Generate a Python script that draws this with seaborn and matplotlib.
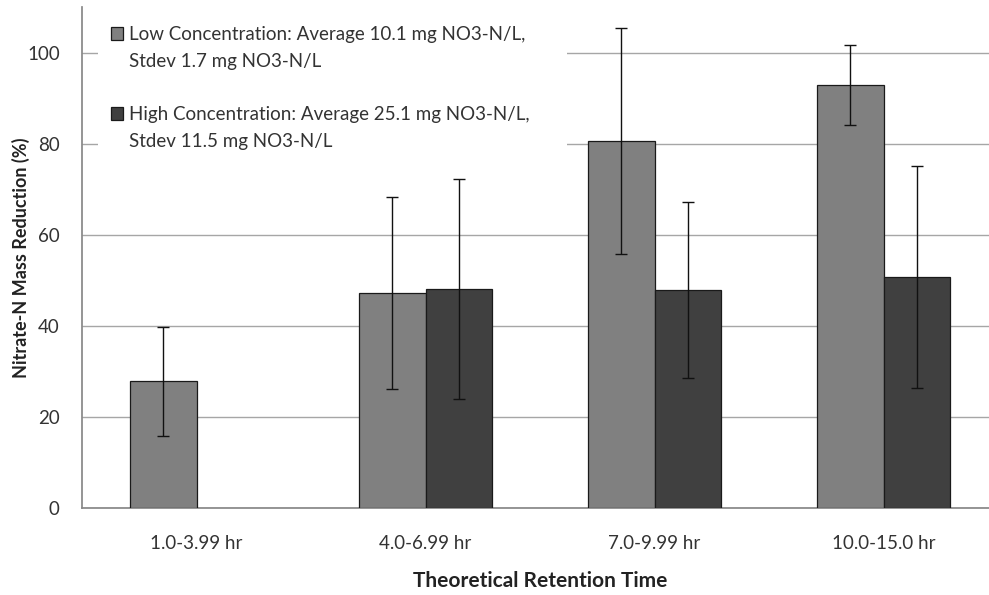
import numpy as np
import pandas as pd
import matplotlib
matplotlib.use("Agg")
import matplotlib.pyplot as plt
from matplotlib.patches import Rectangle
import seaborn as sns

categories = ["1.0-3.99 hr", "4.0-6.99 hr", "7.0-9.99 hr", "10.0-15.0 hr"]
low_mean = [27.8, 47.2, 80.6, 93.0]
low_sd = [12.0, 21.1, 24.8, 8.8]
high_mean = [np.nan, 48.1, 47.9, 50.8]
high_sd = [np.nan, 24.1, 19.3, 24.4]
series = ["Low Concentration: Average 10.1 mg NO3-N/L,\nStdev 1.7 mg NO3-N/L",
          "High Concentration: Average 25.1 mg NO3-N/L,\nStdev 11.5 mg NO3-N/L"]
y_ticks = [0, 20, 40, 60, 80, 100]

df = pd.DataFrame({
    "cat": categories * 2,
    "series": [series[0]] * 4 + [series[1]] * 4,
    "mean": low_mean + high_mean,
    "sd": low_sd + high_sd,
})

sns.set_theme(style="white")
plt.rcParams["font.family"] = ["Lato", "DejaVu Sans"]

fig = plt.figure(figsize=(9.89, 5.95), dpi=100)
ax = fig.add_axes([82 / 989, 1 - 507.7 / 595, (998 - 82) / 989, (507.7 - 7.2) / 595])

sns.barplot(data=df, x="cat", y="mean", hue="series", order=categories, hue_order=series,
            palette=["#808080", "#404040"], width=0.577, gap=0, errorbar=None,
            edgecolor="#1a1a1a", linewidth=0.9, ax=ax, zorder=3)

# error bars from patch positions
for cont, means, sds in zip(ax.containers, [low_mean, high_mean], [low_sd, high_sd]):
    for bar in cont:
        h = bar.get_height()
        if np.isnan(h) or h == 0:
            continue
        idx = int(np.nanargmin([abs(m - h) if not np.isnan(m) else 1e9 for m in means]))
        ax.errorbar(bar.get_x() + bar.get_width() / 2, h, yerr=sds[idx], fmt="none",
                    ecolor="#111111", elinewidth=1.0, capsize=4.5, capthick=1.0, zorder=4)

ax.set_xlim(-0.5, 3.5)
ax.set_ylim(0, 110)
ax.set_yticks(y_ticks)
ax.yaxis.grid(True, color="#a6a6a6", linewidth=1.0, zorder=0)
ax.set_axisbelow(True)
for s in ["top", "right"]:
    ax.spines[s].set_visible(False)
ax.spines["left"].set_color("#888888")
ax.spines["bottom"].set_color("#888888")
ax.spines["left"].set_zorder(5)

ax.tick_params(axis="y", direction="inout", length=8, color="#888888", labelsize=13.5,
               labelcolor="#333333", pad=12)
ax.tick_params(axis="x", which="major", length=0, labelsize=13.5, labelcolor="#333333", pad=20)
ax.set_xticks([0.5, 1.5, 2.5], minor=True)
ax.tick_params(axis="x", which="minor", direction="out", length=5, color="#888888")

ax.set_ylabel("Nitrate-N Mass Reduction (%)", fontsize=13, fontweight="bold", color="#222222")
ax.yaxis.set_label_coords((30 - 82) / 916, 0.5)
ax.set_xlabel("Theoretical Retention Time", fontsize=15, fontweight="bold", color="#222222", labelpad=13)

# white legend area hiding the gridlines behind it (as in the Excel original)
ax.add_patch(Rectangle((98 / 989, 1 - 165 / 595), (567 - 98) / 989, (165 - 12) / 595,
                       transform=fig.transFigure, facecolor="white", edgecolor="none",
                       zorder=1, clip_on=False))

# Excel-style legend: square aligned with first line of each entry
h_low, h_high = ax.get_legend_handles_labels()[0][:2]
blank = Rectangle((0, 0), 1, 1, visible=False)
l1, l2 = series[0].split("\n")
l3, l4 = series[1].split("\n")
ax.legend([h_low, blank, blank, h_high, blank], [l1, l2, " ", l3, l4],
          loc="upper left", bbox_to_anchor=(111 / 989, 1 - 26.0 / 595),
          bbox_transform=fig.transFigure, frameon=False, fontsize=13.5,
          borderpad=0, borderaxespad=0,
          handlelength=0.64, handleheight=0.64, handletextpad=0.33, labelspacing=0.52,
          labelcolor="#333333")

fig.savefig("out.png", dpi=100)
